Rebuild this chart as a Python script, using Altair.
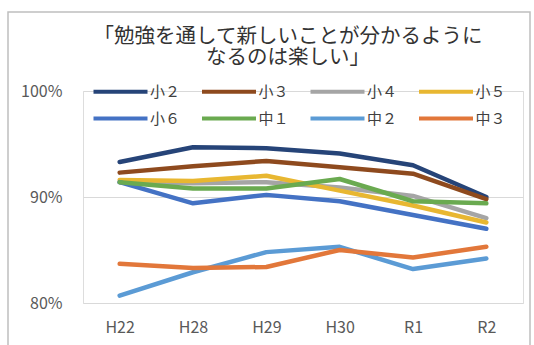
import altair as alt
import pandas as pd

# Survey years (Heisei / Reiwa) and school grades
years = ["H22", "H28", "H29", "H30", "R1", "R2"]
grades = ["小２", "小３", "小４", "小５", "小６", "中１", "中２", "中３"]
colors = ["#264478", "#8E4A1E", "#A5A5A5", "#E8B731",
          "#4472C4", "#6AAA50", "#5B9BD5", "#E2773A"]

# Share of pupils answering positively (%)
sho2 = [93.3, 94.7, 94.6, 94.1, 93.0, 90.0]
sho3 = [92.3, 92.9, 93.4, 92.8, 92.2, 89.8]
sho4 = [91.4, 91.3, 91.4, 90.9, 90.1, 88.0]
sho5 = [91.6, 91.5, 92.0, 90.6, 89.2, 87.6]
sho6 = [91.4, 89.4, 90.2, 89.6, 88.3, 87.0]
chu1 = [91.4, 90.8, 90.8, 91.7, 89.6, 89.4]
chu2 = [80.7, 82.9, 84.8, 85.3, 83.2, 84.2]
chu3 = [83.7, 83.3, 83.4, 85.0, 84.3, 85.3]
series = [sho2, sho3, sho4, sho5, sho6, chu1, chu2, chu3]

rows = []
for i, (g, vals) in enumerate(zip(grades, series)):
    for y, v in zip(years, vals):
        rows.append({"grade": g, "year": y, "rate": v / 100, "k": i})
df = pd.DataFrame(rows)

JP = "Noto Sans CJK JP"

lines = alt.Chart(df).mark_line(
    strokeWidth=4.5, strokeCap="round", strokeJoin="round"
).encode(
    x=alt.X("year:N", sort=years, title=None,
            scale=alt.Scale(type="point", padding=0.5),
            axis=alt.Axis(labelAngle=0, ticks=False, domain=False, grid=False,
                          labelFont=JP, labelFontSize=16, labelColor="#595959",
                          labelPadding=16)),
    y=alt.Y("rate:Q", title=None,
            scale=alt.Scale(domain=[0.8, 1.0], nice=False, zero=False),
            axis=alt.Axis(values=[0.8, 0.9, 1.0], format=".0%", ticks=False,
                          domain=False, gridColor="#D9D9D9", gridWidth=1.2,
                          labelFont=JP, labelFontSize=16, labelColor="#595959",
                          labelPadding=21)),
    color=alt.Color("grade:N", sort=grades,
                    scale=alt.Scale(domain=grades, range=colors),
                    legend=alt.Legend(
                        title=None, orient="none", direction="horizontal",
                        columns=4, legendX=22, legendY=-15,
                        symbolType="M-2,0H2", symbolSize=729,
                        symbolStrokeWidth=4, labelOffset=14,
                        columnPadding=12.5, rowPadding=3,
                        labelFont=JP, labelFontSize=15, labelColor="#404040")),
    order=alt.Order("k:Q"),
)

# light frame around the whole chart area
frame = alt.Chart(pd.DataFrame({"a": [0]})).mark_rect(
    fill=None, stroke="#BFBFBF", strokeWidth=1.5
).encode(
    x=alt.value(-75), x2=alt.value(447),
    y=alt.value(-79), y2=alt.value(270),
)

chart = alt.layer(frame, lines).properties(
    width=440, height=212,
    padding={"left": 83, "top": 91, "right": 11, "bottom": 42},
    autosize=alt.AutoSizeParams(type="none"),
    title=alt.TitleParams(
        text=["「勉強を通して新しいことが分かるように", "なるのは楽しい」"],
        font=JP, fontSize=20.5, fontWeight="normal", color="#333333",
        anchor="middle", dx=-15, offset=-57, lineHeight=21),
).configure_view(stroke=None).configure(background="white")

chart.save("out.html", embed_options={"renderer": "svg", "actions": False})
